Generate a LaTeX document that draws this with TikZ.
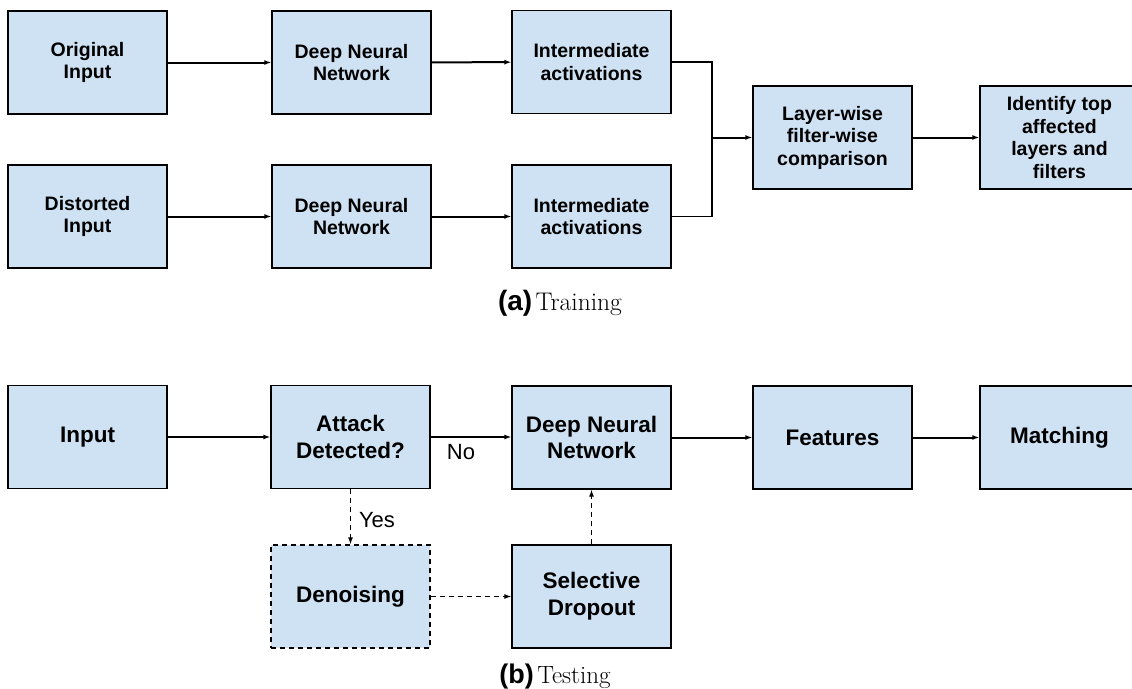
\documentclass[tikz,border=0pt]{standalone}
\usepackage{fontspec}
\newfontfamily\arial{Liberation Sans}
\usetikzlibrary{arrows.meta}
\definecolor{boxblue}{HTML}{CFE2F3}
\begin{document}
\begin{tikzpicture}[x=1pt,y=-1pt,
  box/.style={draw=black, line width=1.3pt, fill=boxblue, minimum width=159pt, minimum height=103pt, inner sep=0pt, align=center, font=\arial\bfseries\fontsize{19.5}{22.5}\selectfont},
  big/.style={font=\arial\bfseries\fontsize{22.5}{26.7}\selectfont},
  dashbox/.style={dash pattern=on 5pt off 4pt},
  arr/.style={-{Latex[length=7pt,width=5pt]}, line width=2pt},
  darr/.style={-{Latex[length=7pt,width=5pt]}, line width=1.1pt, dash pattern=on 5pt off 4pt},
  thinline/.style={line width=1.2pt},
  lbl/.style={font=\arial\fontsize{22}{26}\selectfont, inner sep=0pt},
  captext/.style={anchor=base, inner sep=0pt}
]
\useasboundingbox (0,0) rectangle (1132,688);
\clip (0,0) rectangle (1132,688);
% (a) Training
\node[box] (orig) at (87.5,62.5) {Original\\Input};
\node[box] (dnn1) at (351.5,62.5) {Deep Neural\\Network};
\node[box] (ia1) at (591.5,62) {Intermediate\\activations};
\node[box] (dist) at (87.5,216.5) {Distorted\\Input};
\node[box] (dnn2) at (351.5,216.5) {Deep Neural\\Network};
\node[box] (ia2) at (591.5,216.5) {Intermediate\\activations};
\node[box] (layer) at (832.5,137.5) {Layer-wise\\filter-wise\\comparison};
\node[box] (ident) at (1059.5,137.5) {Identify top\\affected\\layers and\\filters};
\coordinate (m) at (712,137.5);
\draw[arr] (orig) -- (dnn1);
\draw[arr] (dnn1) -- (ia1);
\draw[arr] (dist) -- (dnn2);
\draw[arr] (dnn2) -- (ia2);
\draw[thinline] (ia1.east) -| (m);
\draw[thinline] (ia2.east) -| (m);
\draw[arr] (m) -- (layer);
\draw[arr] (layer) -- (ident);
\node[captext] (capa) at (560,310) {{\arial\bfseries\fontsize{28}{28}\selectfont (a)} {\fontsize{25.5}{25.5}\selectfont Training}};
% (b) Testing
\node[box,big] (inp) at (87.5,437) {Input};
\node[box,big] (att) at (350.5,437) {Attack\\Detected?};
\node[box,big] (dnn3) at (591.5,437.5) {Deep Neural\\Network};
\node[box,big] (feat) at (832.5,437.5) {Features};
\node[box,big] (match) at (1059.5,437.5) {Matching};
\node[box,big,dashbox] (den) at (350.5,596.5) {Denoising};
\node[box,big] (sel) at (591.5,596.5) {Selective\\Dropout};
\draw[arr] (inp) -- (att);
\draw[arr] (att.east |- inp.east) -- (dnn3.west |- inp.east);
\draw[arr] (dnn3) -- (feat);
\draw[arr] (feat) -- (match);
\node[lbl] (no) at (461,452) {No};
\draw[darr] (att) -- (den);
\node[lbl] (yes) at (377,520) {Yes};
\draw[darr] (den) -- (sel);
\draw[darr] (sel) -- (dnn3);
\node[captext] (capb) at (555,683) {{\arial\bfseries\fontsize{27}{27}\selectfont (b)} {\fontsize{25}{25}\selectfont Testing}};
\end{tikzpicture}
\end{document}
